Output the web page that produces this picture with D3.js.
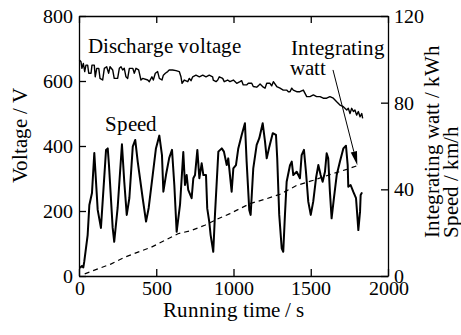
<!DOCTYPE html>
<html>
<head>
<meta charset="utf-8">
<script src="https://cdn.jsdelivr.net/npm/d3@7/dist/d3.min.js"></script>
<style>
  @font-face {
    font-family: "ChartSerif";
    src: local("Liberation Serif"), local("LiberationSerif"), local("LiberationSerif-Regular"),
         local("Times New Roman"), local("DejaVu Serif"), local("DejaVuSerif");
  }
  html, body { margin: 0; padding: 0; background: #fff; }
  svg text { font-family: "ChartSerif", "Liberation Serif", "Times New Roman", serif !important; }
</style>
</head>
<body>
<svg id="chart" width="461" height="335"></svg>
<script>
// Running time ticks and axis ranges
const timeTicks = [0, 500, 1000, 1500, 2000];
const voltageTicks = [0, 200, 400, 600, 800];
const rightTicks = [0, 40, 80, 120];

// Discharge voltage [time s, voltage V]
const voltage = [
  [2,665],[13,659],[19,639],[28,654],[37,629],[45,649],[56,649],[63,624],[78,624],[84,649],
  [99,649],[105,613],[115,639],[128,639],[136,608],[153,603],[164,639],[179,644],[192,624],[201,644],
  [218,634],[228,608],[250,608],[261,639],[272,644],[283,634],[293,639],[304,613],[315,608],[326,639],
  [348,639],[358,624],[369,639],[386,634],[401,603],[412,608],[445,603],[455,598],[472,613],[481,603],
  [494,624],[509,629],[520,608],[537,603],[546,618],[559,624],[574,629],[584,634],[606,634],[628,632],
  [649,629],[660,613],[667,593],[682,603],[704,598],[714,608],[725,601],[736,613],[757,618],[779,613],
  [801,618],[822,613],[843,618],[865,613],[869,603],[887,598],[898,603],[908,613],[930,608],[940,598],
  [962,603],[977,598],[999,603],[1021,593],[1042,598],[1053,601],[1063,588],[1085,588],[1096,593],[1118,593],
  [1128,583],[1150,581],[1160,585],[1172,591],[1193,581],[1204,578],[1215,593],[1236,593],[1247,585],[1258,598],
  [1280,583],[1301,578],[1322,572],[1344,572],[1355,567],[1366,567],[1377,578],[1387,572],[1409,567],[1430,567],
  [1452,572],[1463,562],[1474,552],[1495,552],[1517,557],[1538,552],[1560,552],[1581,547],[1603,547],[1624,552],
  [1646,547],[1668,536],[1689,526],[1711,521],[1733,511],[1743,516],[1754,500],[1765,516],[1776,506],[1786,511],
  [1797,495],[1808,506],[1819,490],[1830,500],[1836,485]
];

// Vehicle speed [time s, km/h]
const speed = [
  [6,3.7],[17,4.6],[28,4.0],[34,6.6],[56,18.9],[67,32.8],[84,38.3],[99,56.8],[121,30.5],[142,22.2],
  [175,58.2],[186,58.9],[194,51.2],[218,22.2],[228,15.8],[250,31.4],[278,60.8],[293,43.5],[309,28.2],[326,36.0],
  [348,59.7],[364,62.8],[380,52.8],[412,36.0],[434,25.1],[451,31.4],[477,46.6],[498,58.9],[520,64.8],[537,55.8],
  [546,38.9],[563,46.6],[584,54.5],[602,58.2],[617,42.0],[632,20.4],[654,33.0],[675,57.2],[686,42.0],[697,46.6],
  [707,39.7],[729,35.9],[740,45.1],[751,46.6],[766,58.2],[779,45.1],[794,52.0],[805,46.6],[822,46.6],[830,31.2],
  [843,25.1],[852,18.9],[869,11.2],[880,28.2],[902,57.4],[924,58.9],[938,57.4],[956,51.2],[966,54.3],[988,38.9],
  [999,49.7],[1016,51.2],[1031,58.9],[1053,65.1],[1074,70.5],[1085,52.8],[1102,30.5],[1111,28.2],[1128,49.7],[1150,60.5],
  [1167,63.6],[1189,70.5],[1204,62.0],[1215,54.3],[1232,59.7],[1254,65.9],[1275,65.1],[1283,54.3],[1296,28.2],[1312,12.8],
  [1322,11.2],[1333,28.2],[1344,43.5],[1366,51.2],[1377,52.8],[1387,46.6],[1409,48.1],[1430,45.1],[1441,55.8],[1456,58.2],
  [1469,48.1],[1484,34.3],[1500,28.2],[1516,34.3],[1534,45.1],[1549,51.2],[1564,46.6],[1577,43.5],[1592,48.1],[1603,56.6],
  [1613,54.3],[1624,38.9],[1635,26.6],[1650,35.9],[1668,46.6],[1689,52.8],[1711,58.9],[1728,60.1],[1739,51.2],[1743,41.2],
  [1758,42.0],[1775,38.9],[1793,35.9],[1801,28.2],[1808,21.2],[1819,29.7],[1823,37.4],[1832,38.6]
];

// Integrating watt [time s, kWh]
const energy = [
  [37,1.0],[123,3.3],[209,5.6],[296,8.7],[382,11.0],[468,13.3],[555,16.4],[641,19.5],[727,21.0],[814,23.4],
  [900,26.4],[977,28.8],[1107,33.4],[1215,35.7],[1301,37.7],[1409,41.8],[1517,44.2],[1624,46.8],[1733,49.2],[1808,51.1]
];

const FONT = "ChartSerif, 'Liberation Serif', 'Times New Roman', serif";

const svg = d3.select("#chart");
const m = { left: 79, right: 388, top: 16, bottom: 276 };

const x = d3.scaleLinear().domain([0, 2000]).range([m.left, m.right]);
const yL = d3.scaleLinear().domain([0, 800]).range([m.bottom, m.top]);
const yR = d3.scaleLinear().domain([0, 120]).range([m.bottom, m.top]);

const FS = 20;
const tickLen = 7;
const fmt = d3.format("d");

// axes with inward ticks
function styleAxis(g) {
  g.attr("font-family", FONT).attr("font-size", FS);
  g.select(".domain").attr("stroke", "#000").attr("stroke-width", 1.3);
  g.selectAll(".tick line").attr("stroke", "#000").attr("stroke-width", 1.3);
  g.selectAll(".tick text").attr("fill", "#000");
}

svg.append("g").attr("transform", `translate(0,${m.bottom})`)
  .call(d3.axisBottom(x).tickValues(timeTicks).tickFormat(fmt).tickSizeInner(-tickLen).tickSizeOuter(0).tickPadding(5))
  .call(styleAxis);
svg.append("g").attr("transform", `translate(0,${m.top})`)
  .call(d3.axisTop(x).tickValues(timeTicks).tickSizeInner(-tickLen).tickSizeOuter(0).tickFormat(""))
  .call(styleAxis);
svg.append("g").attr("transform", `translate(${m.left},0)`)
  .call(d3.axisLeft(yL).tickValues(voltageTicks).tickFormat(fmt).tickSizeInner(-tickLen).tickSizeOuter(0).tickPadding(6))
  .call(styleAxis);
svg.append("g").attr("transform", `translate(${m.right},0)`)
  .call(d3.axisRight(yR).tickValues(rightTicks).tickFormat(fmt).tickSizeInner(-tickLen).tickSizeOuter(0).tickPadding(6))
  .call(styleAxis);

// lines
const lineL = d3.line().x(d => x(d[0])).y(d => yL(d[1]));
const lineR = d3.line().x(d => x(d[0])).y(d => yR(d[1]));

svg.append("path").datum(voltage).attr("d", lineL)
  .attr("fill", "none").attr("stroke", "#000").attr("stroke-width", 1.4).attr("stroke-linejoin", "round");
svg.append("path").datum(speed).attr("d", lineR)
  .attr("fill", "none").attr("stroke", "#000").attr("stroke-width", 2).attr("stroke-linejoin", "round");
svg.append("path").datum(energy).attr("d", lineR)
  .attr("fill", "none").attr("stroke", "#000").attr("stroke-width", 1.2).attr("stroke-dasharray", "5,4");

// annotation arrow toward the integrating watt curve
const last = energy[energy.length - 1];
const ax0 = x(1644), ay0 = yL(634);
const ax1 = x(last[0]) - 1, ay1 = yR(last[1]);
const ang = Math.atan2(ay1 - ay0, ax1 - ax0);
const hl = 14, hw = 3.2;
const bx = ax1 - hl * Math.cos(ang), by = ay1 - hl * Math.sin(ang);
svg.append("line").attr("x1", ax0).attr("y1", ay0).attr("x2", bx).attr("y2", by)
  .attr("stroke", "#000").attr("stroke-width", 1);
svg.append("path")
  .attr("d", `M${ax1},${ay1}L${bx - hw * Math.sin(ang)},${by + hw * Math.cos(ang)}L${bx + hw * Math.sin(ang)},${by - hw * Math.cos(ang)}Z`)
  .attr("fill", "#000");

// labels inside plot
const TS = 21;
function label(xp, yp, s, anchor) {
  return svg.append("text").attr("x", xp).attr("y", yp).attr("font-size", TS)
    .attr("font-family", FONT).attr("text-anchor", anchor || "start").text(s);
}
label(88, 53, "Discharge voltage");
label(105, 131, "Speed");
label(291, 55, "Integrating");
label(290, 75, "watt");

// axis titles
label((m.left + m.right) / 2, 317, "Running time / s", "middle");
label(0, 0, "Voltage / V", "middle").attr("transform", "translate(27,135) rotate(-90)");
label(0, 0, "Integrating watt / kWh", "start").attr("transform", "translate(439,238) rotate(-90)");
label(0, 0, "Speed / km/h", "start").attr("transform", "translate(458,238) rotate(-90)");
</script>
</body>
</html>
